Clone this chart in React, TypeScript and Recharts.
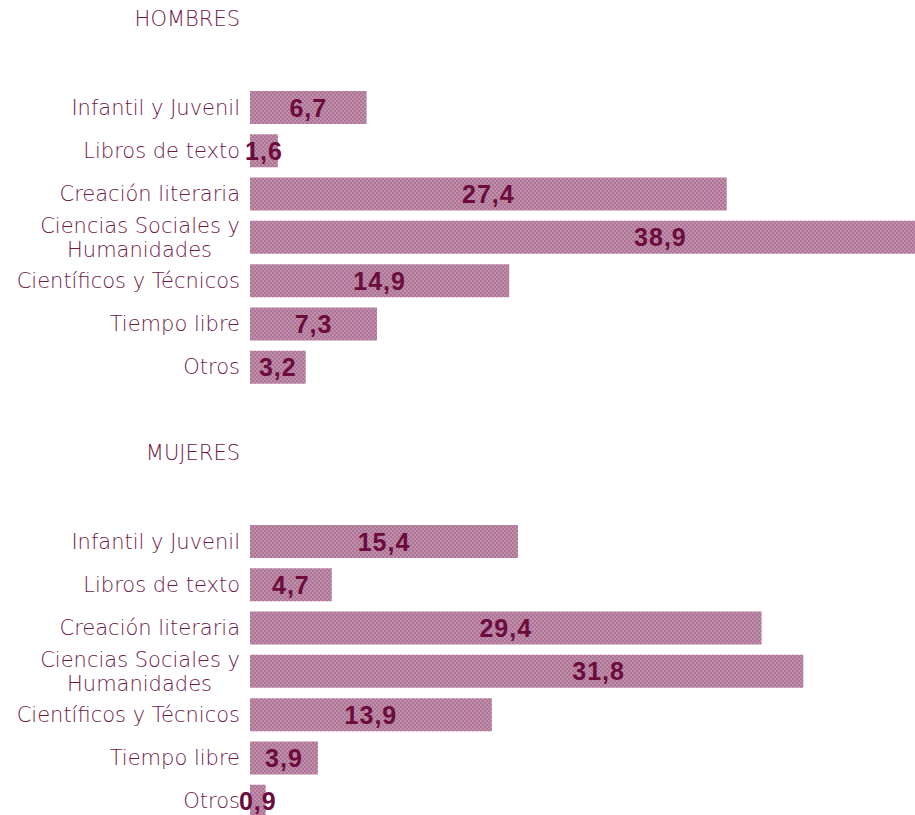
import { BarChart, Bar, XAxis, YAxis, LabelList } from "recharts"

const categorias = [
  "Infantil y Juvenil",
  "Libros de texto",
  "Creación literaria",
  "Ciencias Sociales y\nHumanidades",
  "Científicos y Técnicos",
  "Tiempo libre",
  "Otros",
]
const hombres = [6.7, 1.6, 27.4, 38.9, 14.9, 7.3, 3.2]
const mujeres = [15.4, 4.7, 29.4, 31.8, 13.9, 3.9, 0.9]
const titulos = ["HOMBRES", "MUJERES"]

const TEXTO = "#6f1848"
const ETIQUETA = "#6b0c3c"
const FUENTE_LIGERA = "'DejaVu Sans', sans-serif"

// tick del eje Y con soporte para dos líneas
function TickCategoria(props: any) {
  const { x, y, payload } = props
  const lineas: string[] = String(payload.value).split("\n")
  const y0 = y - ((lineas.length - 1) * 24) / 2
  return (
    <text
      x={x}
      y={y0}
      textAnchor="end"
      dominantBaseline="central"
      fill={TEXTO}
      fontFamily={FUENTE_LIGERA}
      fontWeight={200}
      fontSize={21}
    >
      {lineas.map((l, i) => (
        <tspan key={i} x={i === 0 ? x : x - 28} dy={i === 0 ? 0 : 24}>
          {l}
        </tspan>
      ))}
    </text>
  )
}

const fmt = (v: any) => Number(v).toFixed(1).replace(".", ",")

// etiqueta centrada; en la fila de dos líneas el original la desplaza a la derecha
function EtiquetaValor(props: any) {
  const { x, y, width, height, value, index } = props
  const desplaza = categorias[index]?.includes("\n") ? 72 : 0
  return (
    <text
      x={x + width / 2 + desplaza}
      y={y + height / 2}
      textAnchor="middle"
      dominantBaseline="central"
      fill={ETIQUETA}
      fontFamily="'Liberation Sans', Arial, sans-serif"
      fontWeight={700}
      fontSize={25}
      letterSpacing={1}
    >
      {fmt(value)}
    </text>
  )
}

function Panel({ titulo, valores, id }: { titulo: string; valores: number[]; id: string }) {
  const data = categorias.map((c, i) => ({ cat: c, valor: valores[i] }))
  return (
    <div style={{ position: "relative", width: 915, height: 434 }}>
      <div
        style={{
          position: "absolute",
          top: 6,
          left: 0,
          width: 240,
          textAlign: "right",
          color: TEXTO,
          fontFamily: FUENTE_LIGERA,
          fontWeight: 200,
          fontSize: 21,
          lineHeight: "26px",
        }}
      >
        {titulo}
      </div>
      <BarChart
        width={946}
        height={400}
        data={data}
        layout="vertical"
        margin={{ top: 86, right: 0, bottom: 11, left: 0 }}
        barSize={33}
      >
        <defs>
          <pattern id={id} width="4" height="4" patternUnits="userSpaceOnUse">
            <rect width="4" height="4" fill="#c08dab" />
            <rect width="2" height="2" fill="#ad7596" />
            <rect x="2" y="2" width="2" height="2" fill="#ad7596" />
          </pattern>
        </defs>
        <XAxis type="number" domain={[0, 40]} hide />
        <YAxis
          type="category"
          dataKey="cat"
          width={250}
          axisLine={false}
          tickLine={false}
          tickSize={0}
          tickMargin={10}
          interval={0}
          tick={<TickCategoria />}
        />
        <Bar dataKey="valor" fill={`url(#${id})`} isAnimationActive={false}>
          <LabelList dataKey="valor" content={<EtiquetaValor />} />
        </Bar>
      </BarChart>
    </div>
  )
}

export default function App() {
  return (
    <div
      style={{
        position: "fixed",
        top: 0,
        left: 0,
        width: 915,
        height: 815,
        overflow: "hidden",
        background: "#fff",
      }}
    >
      <Panel titulo={titulos[0]} valores={hombres} id="chk-h" />
      <Panel titulo={titulos[1]} valores={mujeres} id="chk-m" />
    </div>
  )
}
